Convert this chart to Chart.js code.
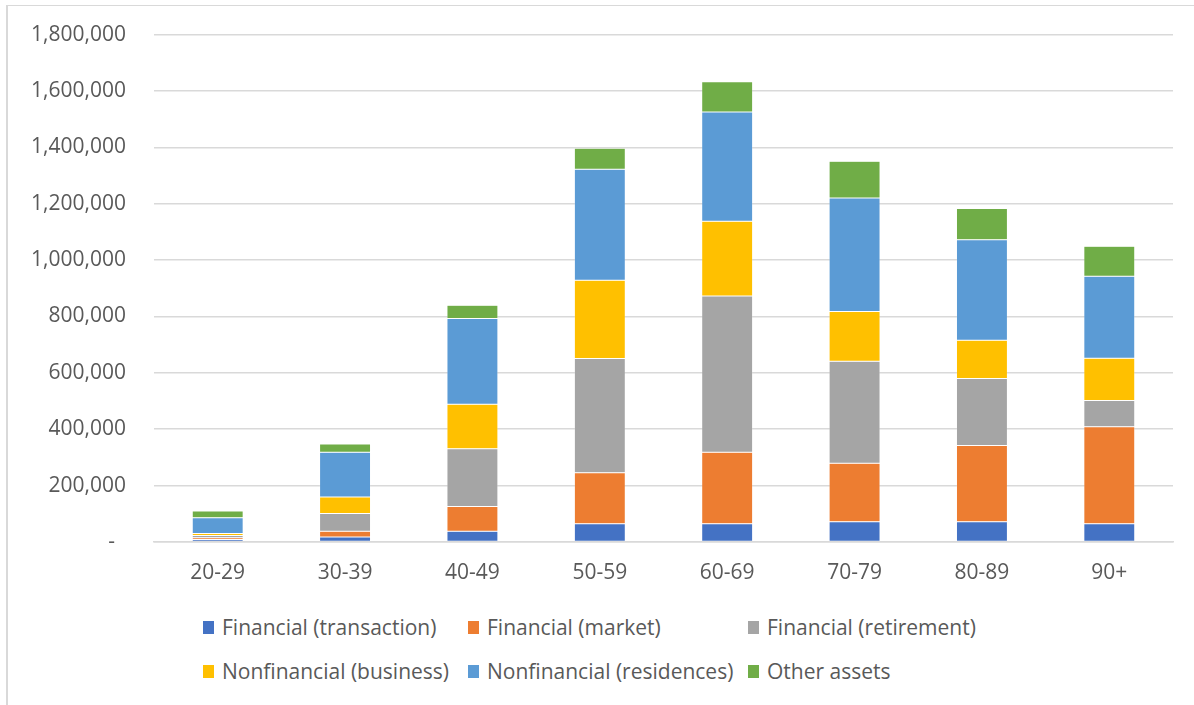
<!DOCTYPE html>
<html>
<head>
    <meta charset="UTF-8">
    <title>Assets by age group</title>
    <style>
        body {
            margin: 0;
            background-color: white;
            font-family: "Open Sans", sans-serif;
        }

        .frame {
            position: absolute;
            left: 6px;
            top: 5px;
            width: 1300px;
            height: 800px;
            border-left: 2px solid #d9d9d9;
            border-top: 1px solid #d9d9d9;
        }

        #grafico-box {
            position: absolute;
            left: 0;
            top: -6px;
            width: 1194px;
            height: 596px;
        }

        .legenda {
            position: absolute;
            left: 203px;
            top: 612px;
            display: grid;
            grid-template-columns: 265px 280px auto;
            row-gap: 14px;
            color: #595959;
            font-size: 21px;
            line-height: 30px;
        }

        .legenda-item {
            display: flex;
            align-items: center;
            white-space: nowrap;
        }

        .legenda-cor {
            display: inline-block;
            width: 11px;
            height: 13px;
            margin-right: 8px;
        }
    </style>
    <script src="https://cdn.jsdelivr.net/npm/chart.js"></script>
</head>
<body>
    <div class="frame"></div>
    <div id="grafico-box"><canvas id="grafico"></canvas></div>
    <div class="legenda" id="legenda"></div>

    <script>
        var faixas = ['20-29', '30-39', '40-49', '50-59', '60-69', '70-79', '80-89', '90+'];

        // valores de cada camada da pilha, por faixa etária
        var finTransacao = [9000, 18000, 38000, 65000, 65000, 72000, 72000, 65000];
        var finMercado = [6000, 20000, 88000, 181000, 253000, 207000, 270000, 344000];
        var finAposentadoria = [8000, 63000, 205000, 405000, 555000, 362000, 238000, 93000];
        var naoFinNegocio = [7000, 59000, 158000, 278000, 265000, 177000, 136000, 150000];
        var naoFinResidencia = [56000, 158000, 304000, 393000, 387000, 402000, 356000, 291000];
        var outrosAtivos = [24000, 30000, 47000, 75000, 108000, 131000, 111000, 106000];

        var nomesSeries = [
            'Financial (transaction)', 'Financial (market)', 'Financial (retirement)',
            'Nonfinancial (business)', 'Nonfinancial (residences)', 'Other assets'
        ];
        var cores = ['#4472C4', '#ED7D31', '#A5A5A5', '#FFC000', '#5B9BD5', '#70AD47'];
        var series = [finTransacao, finMercado, finAposentadoria, naoFinNegocio, naoFinResidencia, outrosAtivos];

        var eixoMax = 1800000;
        var eixoPasso = 200000;

        Chart.defaults.font.family = "'Open Sans', sans-serif";
        Chart.defaults.font.size = 21;
        Chart.defaults.color = '#595959';

        var datasets = series.map(function (dados, i) {
            return {
                label: nomesSeries[i],
                data: dados,
                backgroundColor: cores[i],
                borderColor: 'rgba(255, 255, 255, 0.45)',
                borderWidth: 0.5,
                borderSkipped: false,
                barPercentage: 0.4,
                categoryPercentage: 1
            };
        });

        var ctx = document.getElementById('grafico').getContext('2d');
        var grafico = new Chart(ctx, {
            type: 'bar',
            data: {
                labels: faixas,
                datasets: datasets
            },
            options: {
                responsive: true,
                maintainAspectRatio: false,
                animation: false,
                layout: {
                    padding: { left: 0, right: 21, top: 28, bottom: 0 }
                },
                plugins: {
                    legend: { display: false },
                    tooltip: { enabled: false }
                },
                scales: {
                    x: {
                        stacked: true,
                        grid: { display: false, drawTicks: false },
                        border: { display: true, color: '#d9d9d9', width: 1.5 },
                        ticks: { padding: 18 },
                        afterFit: function (escala) { escala.height = 48; }
                    },
                    y: {
                        stacked: true,
                        min: 0,
                        max: eixoMax,
                        grid: { color: '#d9d9d9', lineWidth: 1.5, drawTicks: false },
                        border: { display: false },
                        ticks: {
                            stepSize: eixoPasso,
                            padding: 28,
                            callback: function (valor) {
                                return valor === 0 ? '-  ' : valor.toLocaleString('en-US');
                            }
                        },
                        afterFit: function (escala) { escala.width = 154; }
                    }
                }
            }
        });

        // legenda em colunas, montada a partir dos datasets
        var legenda = document.getElementById('legenda');
        grafico.data.datasets.forEach(function (ds) {
            var item = document.createElement('div');
            item.className = 'legenda-item';
            item.innerHTML = '<span class="legenda-cor" style="background-color:' + ds.backgroundColor + '"></span>' + ds.label;
            legenda.appendChild(item);
        });
    </script>
</body>
</html>
